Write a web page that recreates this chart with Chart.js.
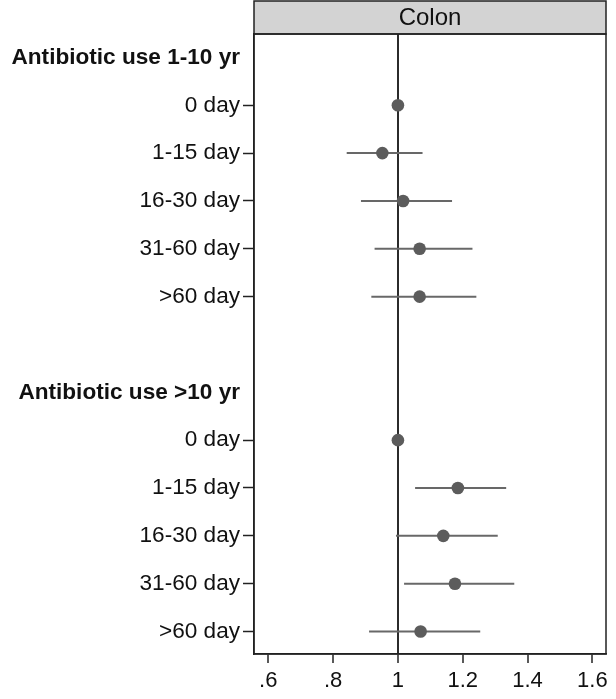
<!DOCTYPE html>
<html>
<head>
<meta charset="utf-8">
<script src="https://cdn.jsdelivr.net/npm/chart.js@4"></script>
<style>
  body { margin: 0; background: #fff; }
  #wrap { width: 616px; height: 699px; position: relative; }
</style>
</head>
<body>
<div id="wrap"><canvas id="forest"></canvas></div>
<script>
// rows top to bottom (index = y position)
const rowLabels = [
  "Antibiotic use 1-10 yr", "0 day", "1-15 day", "16-30 day", "31-60 day", ">60 day",
  "",
  "Antibiotic use >10 yr", "0 day", "1-15 day", "16-30 day", "31-60 day", ">60 day",
];
const headingRows = [0, 7];
const hazard = [null, 1.00, 0.952, 1.016, 1.067, 1.067, null, null, 1.00, 1.185, 1.140, 1.176, 1.070];
const ciLow  = [null, null, 0.842, 0.886, 0.928, 0.918, null, null, null, 1.053, 0.994, 1.019, 0.911];
const ciHigh = [null, null, 1.076, 1.167, 1.230, 1.242, null, null, null, 1.334, 1.308, 1.359, 1.254];
const xTicks = [0.6, 0.8, 1.0, 1.2, 1.4, 1.6];
const xTickLabels = [".6", ".8", "1", "1.2", "1.4", "1.6"];
const panelTitle = "Colon";

const FONT = "'Liberation Sans', Arial, sans-serif";

const ciSets = [];
rowLabels.forEach((_, i) => {
  if (ciLow[i] == null) return;
  ciSets.push({
    type: "line",
    data: [{ x: ciLow[i], y: i }, { x: ciHigh[i], y: i }],
    borderColor: "#686868",
    borderWidth: 2,
    pointRadius: 0,
    order: 2,
  });
});

const points = rowLabels
  .map((_, i) => (hazard[i] == null ? null : { x: hazard[i], y: i }))
  .filter(Boolean);

const framePlugin = {
  id: "frame",
  afterDraw(chart) {
    const { ctx, chartArea: a } = chart;
    ctx.save();
    // header strip
    ctx.fillStyle = "#d3d3d3";
    ctx.fillRect(a.left, 1, a.right - a.left, a.top - 1);
    ctx.strokeStyle = "#222";
    ctx.lineWidth = 1.5;
    ctx.strokeRect(a.left, 1, a.right - a.left, a.top - 1);
    ctx.fillStyle = "#111";
    ctx.font = `24px ${FONT}`;
    ctx.textAlign = "center";
    ctx.textBaseline = "middle";
    ctx.fillText(panelTitle, (a.left + a.right) / 2, (a.top + 1) / 2 + 1);
    // plot frame
    ctx.strokeRect(a.left, a.top, a.right - a.left, a.bottom - a.top);
    ctx.restore();
  },
};

new Chart(document.getElementById("forest"), {
  type: "scatter",
  data: {
    datasets: [
      ...ciSets,
      {
        type: "scatter",
        data: points,
        backgroundColor: "#5c5c5c",
        borderWidth: 0,
        pointRadius: 6.3,
        order: 1,
      },
    ],
  },
  options: {
    responsive: true,
    maintainAspectRatio: false,
    animation: false,
    layout: { padding: { top: 34, right: 10, left: 0, bottom: 0 } },
    plugins: { legend: { display: false }, tooltip: { enabled: false } },
    scales: {
      x: {
        type: "linear",
        min: 0.556,
        max: 1.642,
        afterBuildTicks: (s) => { s.ticks = xTicks.map((v) => ({ value: v })); },
        afterFit: (s) => { s.height = 45; },
        ticks: {
          color: "#111",
          font: { family: FONT, size: 22 },
          padding: 5,
          maxRotation: 0,
          callback: (v) => xTickLabels[xTicks.findIndex((t) => Math.abs(t - v) < 1e-9)],
        },
        grid: {
          color: (c) => (c.tick && Math.abs(c.tick.value - 1) < 1e-9 ? "#2b2b2b" : "rgba(0,0,0,0)"),
          lineWidth: 2,
          tickColor: "#222",
          tickWidth: 1.5,
          tickLength: 9,
        },
        border: { display: true, color: "#222", width: 1.5 },
      },
      y: {
        type: "linear",
        reverse: true,
        min: -0.49,
        max: 12.47,
        afterBuildTicks: (s) => {
          s.ticks = rowLabels.map((_, i) => ({ value: i })).filter((t) => rowLabels[t.value] !== "");
        },
        afterFit: (s) => { s.width = 254; },
        ticks: {
          color: "#111",
          padding: 3,
          font: (c) => ({
            family: FONT,
            size: 22.6,
            weight: c.tick && headingRows.includes(c.tick.value) ? "bold" : "normal",
          }),
          callback: (v) => rowLabels[v],
        },
        grid: {
          drawOnChartArea: false,
          tickLength: 11,
          tickWidth: 1.5,
          tickColor: (c) => (c.tick && headingRows.includes(c.tick.value) ? "rgba(0,0,0,0)" : "#222"),
        },
        border: { display: true, color: "#222", width: 1.5 },
      },
    },
  },
  plugins: [framePlugin],
});
</script>
</body>
</html>
